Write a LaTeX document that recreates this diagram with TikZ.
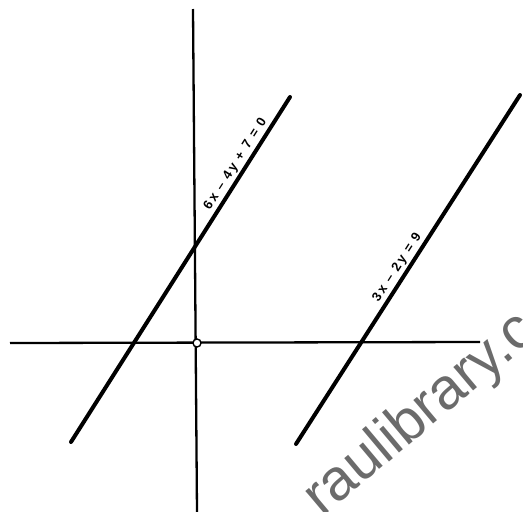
\documentclass[tikz,border=0pt]{standalone}
\usepackage{fontspec}
\setmainfont{Liberation Sans}
\newfontfamily\labelfont[LetterSpace=18]{Liberation Sans}
\begin{document}
\begin{tikzpicture}[x=1pt,y=-1pt,
  axis/.style={line width=2.3pt},
  graphline/.style={line width=4pt,line cap=round},
  eqlabel/.style={sloped,above,inner sep=2pt,font=\labelfont\bfseries\fontsize{13}{13}\selectfont},
  wmark/.style={text=black!58,font=\fontsize{58}{58}\selectfont,anchor=base west,rotate=40,inner sep=0pt}]
\useasboundingbox (0,0) rectangle (523,512);
% watermark
\node[wmark] (wm) at (322,518) {raulibrary.co};
% axes
\coordinate (xl) at (10,343);
\coordinate (xr) at (480,342);
\coordinate (yt) at (193,9);
\coordinate (yb) at (197,512);
\draw[axis] (xl) -- (xr);
\draw[axis] (yt) -- (yb);
\node[circle,draw,fill=white,line width=1.4pt,minimum size=8pt,inner sep=0pt] (o) at (197,343) {};
% lines
\coordinate (a1) at (71,442);
\coordinate (a2) at (290,97);
\coordinate (b1) at (296,444);
\coordinate (b2) at (520,95);
\draw[graphline] (a1) -- node[eqlabel,pos=0.79] (l1) {6x – 4y + 7 = 0} (a2);
\draw[graphline] (b1) -- node[eqlabel,pos=0.49] (l2) {3x – 2y = 9} (b2);
\end{tikzpicture}
\end{document}
